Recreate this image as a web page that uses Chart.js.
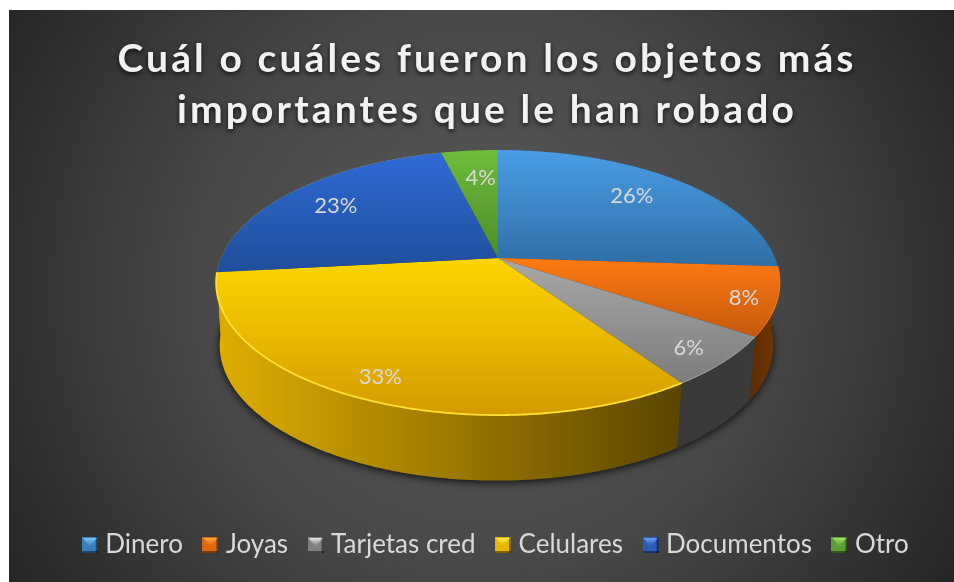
<!DOCTYPE html>
<html>
<head>
<meta charset="utf-8">
<title>Objetos robados</title>
<script src="https://cdn.jsdelivr.net/npm/chart.js@4"></script>
<style>
  html, body { margin: 0; padding: 0; background: #fff; }
  canvas { display: block; }
</style>
</head>
<body>
<canvas id="chart" width="954" height="582"></canvas>
<script>
// data (labels show the rounded percentages)
const chartTitle = ["Cuál o cuáles fueron los objetos más", "importantes que le han robado"];
const categories = ["Dinero", "Joyas", "Tarjetas cred", "Celulares", "Documentos", "Otro"];
const shares = [26, 8.3, 6.2, 32.75, 22.85, 3.9];

// slice styles
const topLight = ["#4a9de4", "#ff7a12", "#a8a8a8", "#ffd500", "#2f6ad6", "#6fbb3c"];
const topDark = ["#2f6ea6", "#c4590c", "#7c7c7c", "#d49b00", "#1f4e99", "#4e8c28"];
const wallStops = [
  ["#1f4a70", "#1f4a70"],
  ["#5a2a02", "#763603"],
  ["#383838", "#3a3a3a"],
  ["#e0ae00", "#5a4500"],
  ["#d9a800", "#d9a800"], // the sliver on the far left reads as part of the yellow wall
  ["#33601a", "#33601a"]
];
const rimColors = ["#5aa8ea", "#ff8a2a", "#b4b4b4", "#ffe033", "#3b78e0", "#7cc848"];
const rimWidths = [0, 0.8, 0.8, 1.8, 0, 0];
const markerColors = ["#3a7fbd", "#e0670f", "#808080", "#e6b400", "#2a5cb5", "#5c9e34"];
const markerLights = ["#7fd0ff", "#ffb347", "#f0f0f0", "#fff04d", "#6fa8ff", "#a8ec70"];

// label placement along each slice: fraction of the radius, degrees off the middle
const labelRadius = [0.75, 0.89, 0.87, 0.87, 0.77, 0.71];
const labelNudge = [-1.8, 0.9, 0.9, -0.1, -0.1, 1.3];

// pie seen in perspective
const view = { x: 498, y: 258, a: 277, b: 128, k: 0.185 };
const base = { x: 496.5, y: 320.5, a: 272, b: 130.5, k: 0.185 };

function project(p, r, angle) {
  const u = r * Math.sin(angle);
  const v = -r * Math.cos(angle);
  const w = 1 - p.k * v;
  return { x: p.x + p.a * u / w, y: p.y + p.b * v / w };
}

// arc elements count from 3 o'clock, the projection counts from 12
function clockAngle(a) {
  return a + Math.PI / 2;
}

function rimPoints(p, from, to) {
  const pts = [];
  const steps = Math.max(2, Math.ceil((to - from) / 0.01));
  for (let i = 0; i <= steps; i++) {
    pts.push(project(p, 1, from + (to - from) * i / steps));
  }
  return pts;
}

function tracePoints(ctx, pts, start) {
  pts.forEach((pt, i) => {
    if (i === 0 && start) ctx.moveTo(pt.x, pt.y);
    else ctx.lineTo(pt.x, pt.y);
  });
}

function bevelMarker(fill, light) {
  const c = document.createElement("canvas");
  c.width = 16;
  c.height = 16;
  const g = c.getContext("2d");
  g.fillStyle = fill;
  g.fillRect(0, 0, 16, 16);
  g.fillStyle = "rgba(0,0,0,0.45)";
  g.fillRect(0, 14, 16, 2);
  g.fillRect(14, 0, 2, 16);
  const top = g.createLinearGradient(0, 0, 0, 9);
  top.addColorStop(0, light);
  top.addColorStop(1, fill);
  g.fillStyle = top;
  g.beginPath();
  g.moveTo(1, 1);
  g.lineTo(15, 1);
  g.lineTo(8, 10);
  g.closePath();
  g.fill();
  return c;
}

const backdrop = {
  id: "backdrop",
  beforeDraw(chart) {
    const ctx = chart.ctx;
    const g = ctx.createRadialGradient(480, 290, 0, 480, 290, 560);
    g.addColorStop(0, "#5b5b5b");
    g.addColorStop(0.5, "#484848");
    g.addColorStop(1, "#252525");
    ctx.save();
    ctx.fillStyle = g;
    ctx.fillRect(9, 10, 945, 572);
    ctx.restore();
  }
};

const spacedTitle = {
  id: "spacedTitle",
  afterLayout(chart) {
    // move the legend row and give the title its tracking and soft shadow
    chart.legend.top = 507;
    if (!chart.legend._moved) {
      chart.legend._moved = true;
      chart.legend.left += 21;
      chart.legend.right += 21;
    }
    const t = chart.titleBlock;
    if (t._spaced) return;
    t._spaced = true;
    const draw = t.draw;
    t.draw = function () {
      const ctx = this.ctx;
      ctx.save();
      ctx.translate(10, 11);
      ctx.letterSpacing = "3.1px";
      ctx.shadowColor = "rgba(0,0,0,0.75)";
      ctx.shadowBlur = 5;
      ctx.shadowOffsetY = 2;
      draw.call(this);
      ctx.restore();
    };
  }
};

const perspectivePie = {
  id: "perspectivePie",
  beforeDatasetsDraw(chart) {
    const ctx = chart.ctx;
    const arcs = chart.getDatasetMeta(0).data;
    const spans = arcs.map((arc) => ({
      from: clockAngle(arc.startAngle),
      to: clockAngle(arc.endAngle)
    }));

    ctx.save();

    // shadow under the body of the pie
    ctx.save();
    ctx.shadowColor = "rgba(0,0,0,0.8)";
    ctx.shadowBlur = 8;
    ctx.shadowOffsetY = 2;
    ctx.fillStyle = "#333";
    ctx.beginPath();
    tracePoints(ctx, rimPoints(base, 0, Math.PI * 2), true);
    ctx.closePath();
    ctx.fill();
    ctx.restore();

    // outer walls
    spans.forEach((s, i) => {
      const top = rimPoints(view, s.from, s.to);
      const bottom = rimPoints(base, s.from, s.to).reverse();
      const xs = top.concat(bottom).map((pt) => pt.x);
      const g = ctx.createLinearGradient(Math.min(...xs), 0, Math.max(...xs), 0);
      g.addColorStop(0, wallStops[i][0]);
      g.addColorStop(1, wallStops[i][1]);
      ctx.fillStyle = g;
      ctx.beginPath();
      tracePoints(ctx, top, true);
      tracePoints(ctx, bottom, false);
      ctx.closePath();
      ctx.fill();
    });

    // top faces
    spans.forEach((s, i) => {
      const rim = rimPoints(view, s.from, s.to);
      const ys = rim.map((pt) => pt.y).concat(view.y);
      const g = ctx.createLinearGradient(0, Math.min(...ys), 0, Math.max(...ys));
      g.addColorStop(0, topLight[i]);
      g.addColorStop(1, topDark[i]);
      ctx.fillStyle = g;
      ctx.beginPath();
      ctx.moveTo(view.x, view.y);
      tracePoints(ctx, rim, false);
      ctx.closePath();
      ctx.fill();
    });

    // bevel along the rim
    spans.forEach((s, i) => {
      if (!rimWidths[i]) return;
      ctx.strokeStyle = rimColors[i];
      ctx.lineWidth = rimWidths[i];
      ctx.beginPath();
      tracePoints(ctx, rimPoints(view, s.from, s.to), true);
      ctx.stroke();
    });

    // percentage labels
    ctx.fillStyle = "#d9d9d9";
    ctx.font = "22px Lato";
    ctx.textAlign = "center";
    ctx.textBaseline = "middle";
    const total = shares.reduce((sum, v) => sum + v, 0);
    spans.forEach((s, i) => {
      const mid = (s.from + s.to) / 2 + labelNudge[i] * Math.PI / 180;
      const pt = project(view, labelRadius[i], mid);
      ctx.fillText(Math.round(shares[i] / total * 100) + "%", pt.x, pt.y);
    });

    ctx.restore();
    return false;
  }
};

window.addEventListener("DOMContentLoaded", () => {
  new Chart(document.getElementById("chart"), {
    type: "pie",
    data: {
      labels: categories,
      datasets: [{ data: shares, backgroundColor: topLight, borderWidth: 0 }]
    },
    plugins: [backdrop, spacedTitle, perspectivePie],
    options: {
      responsive: false,
      animation: false,
      plugins: {
        tooltip: { enabled: false },
        title: {
          display: true,
          text: chartTitle,
          color: "#f2f2f2",
          font: { family: "Lato", size: 39, weight: "bold", lineHeight: 1.33 },
          padding: { top: 22, bottom: 10 }
        },
        legend: {
          position: "bottom",
          labels: {
            usePointStyle: true,
            pointStyleWidth: 5,
            padding: 25,
            color: "#d9d9d9",
            font: { family: "Lato", size: 26 },
            generateLabels: () =>
              categories.map((name, i) => ({
                text: name,
                index: i,
                hidden: false,
                lineWidth: 0,
                fontColor: "#d9d9d9",
                pointStyle: bevelMarker(markerColors[i], markerLights[i])
              }))
          }
        }
      }
    }
  });
});
</script>
</body>
</html>
